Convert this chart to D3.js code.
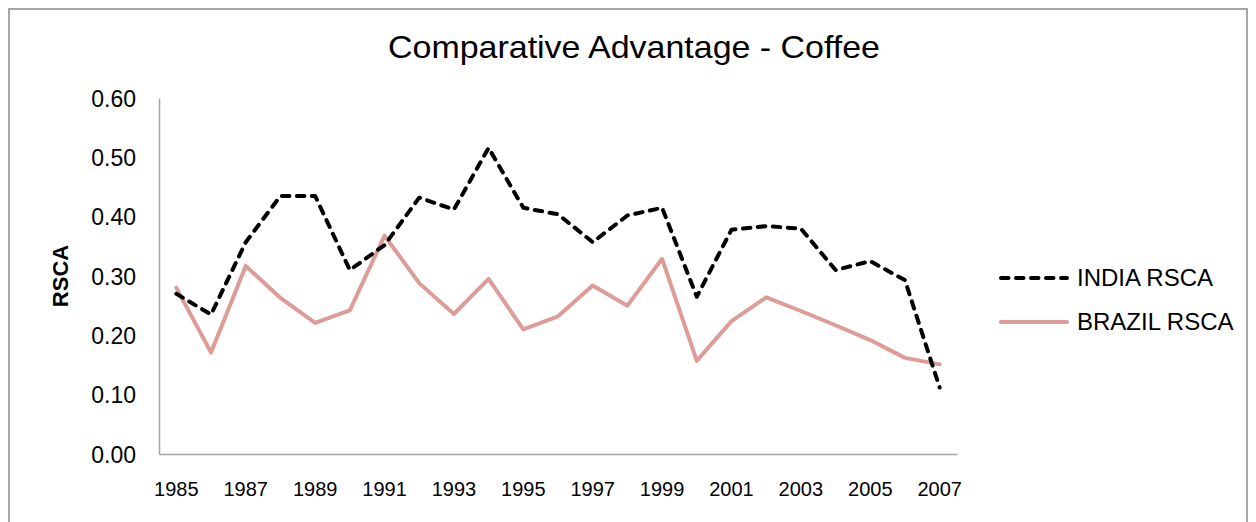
<!DOCTYPE html>
<html>
<head>
<meta charset="utf-8">
<script src="https://cdn.jsdelivr.net/npm/d3@7"></script>
<style>
  body { margin: 0; background: #fff; }
  svg text { font-family: "Liberation Sans", Arial, sans-serif; fill: #000; }
</style>
</head>
<body>
<div id="chart"></div>
<script>
// data
const years = d3.range(1985, 2008).map(String);
const tickYears = ["1985","1987","1989","1991","1993","1995","1997","1999","2001","2003","2005","2007"];
const yTicks = [0, 0.1, 0.2, 0.3, 0.4, 0.5, 0.6];
const india = [0.27, 0.235, 0.357, 0.435, 0.435, 0.31, 0.352, 0.432, 0.412, 0.516, 0.415, 0.404, 0.357, 0.402, 0.415, 0.265, 0.378, 0.384, 0.38, 0.31, 0.325, 0.293, 0.112];
const brazil = [0.28, 0.171, 0.317, 0.263, 0.221, 0.242, 0.368, 0.288, 0.236, 0.295, 0.21, 0.232, 0.284, 0.25, 0.329, 0.157, 0.224, 0.264, 0.241, 0.217, 0.192, 0.162, 0.151];

const W = 1256, H = 522;
const margin = { top: 98, left: 159, right: 299, bottom: 68 };
const w = W - margin.left - margin.right;
const h = H - margin.top - margin.bottom;

const svg = d3.select("#chart").append("svg")
  .attr("width", W)
  .attr("height", H);

// outer chart frame
svg.append("rect")
  .attr("x", 9).attr("y", 9)
  .attr("width", 1238).attr("height", 530)
  .attr("fill", "#fff")
  .attr("stroke", "#a6a6a6")
  .attr("stroke-width", 2);

svg.append("text")
  .attr("x", 634).attr("y", 58)
  .attr("text-anchor", "middle")
  .style("font-size", "32px")
  .attr("textLength", 492)
  .attr("lengthAdjust", "spacingAndGlyphs")
  .text("Comparative Advantage - Coffee");

const g = svg.append("g").attr("transform", `translate(${margin.left},${margin.top})`);

const x = d3.scaleBand().domain(years).range([0, w]);
const y = d3.scaleLinear().domain([0, 0.6]).range([h, 0]);

// axes
const xAxis = g.append("g")
  .attr("transform", `translate(0,${h})`)
  .call(d3.axisBottom(x).tickValues(tickYears).tickSize(0).tickPadding(28));
const yAxis = g.append("g")
  .call(d3.axisLeft(y).tickValues(yTicks).tickFormat(d3.format(".2f")).tickSize(0).tickPadding(23));

[xAxis, yAxis].forEach(a => {
  a.select(".domain").attr("stroke", "#a6a6a6").attr("stroke-width", 1.5);
  a.selectAll("text").style("font-family", "'Liberation Sans', Arial, sans-serif").attr("fill", "#000");
});
xAxis.selectAll("text").style("font-size", "20px");
yAxis.selectAll("text").style("font-size", "23px").attr("dy", "0.35em");

g.append("text")
  .attr("transform", "rotate(-90)")
  .attr("x", -(276 - margin.top))
  .attr("y", -91)
  .attr("text-anchor", "middle")
  .style("font-size", "22px")
  .style("font-weight", "bold")
  .text("RSCA");

const line = d3.line()
  .x((d, i) => x(years[i]) + x.bandwidth() / 2)
  .y(d => y(d));

const series = [
  { name: "INDIA RSCA", values: india, color: "#000", dash: "7.5,7.5" },
  { name: "BRAZIL RSCA", values: brazil, color: "#dd9c97", dash: null }
];

// brazil underneath, india on top
g.selectAll(".series")
  .data(series.slice().reverse())
  .join("path")
  .attr("class", "series")
  .attr("d", d => line(d.values))
  .attr("fill", "none")
  .attr("stroke", d => d.color)
  .attr("stroke-width", 4)
  .attr("stroke-linecap", "round")
  .attr("stroke-linejoin", "round")
  .attr("stroke-dasharray", d => d.dash);

// legend
const legend = svg.append("g").attr("transform", "translate(999,278)");
const items = legend.selectAll("g")
  .data(series)
  .join("g")
  .attr("transform", (d, i) => `translate(0,${i * 44})`);
items.append("line")
  .attr("x1", 2).attr("x2", 68)
  .attr("stroke", d => d.color)
  .attr("stroke-width", 4)
  .attr("stroke-linecap", "round")
  .attr("stroke-dasharray", d => d.dash);
items.append("text")
  .attr("x", 78)
  .attr("y", 0)
  .attr("dy", "0.35em")
  .style("font-size", "24px")
  .text(d => d.name);
</script>
</body>
</html>
